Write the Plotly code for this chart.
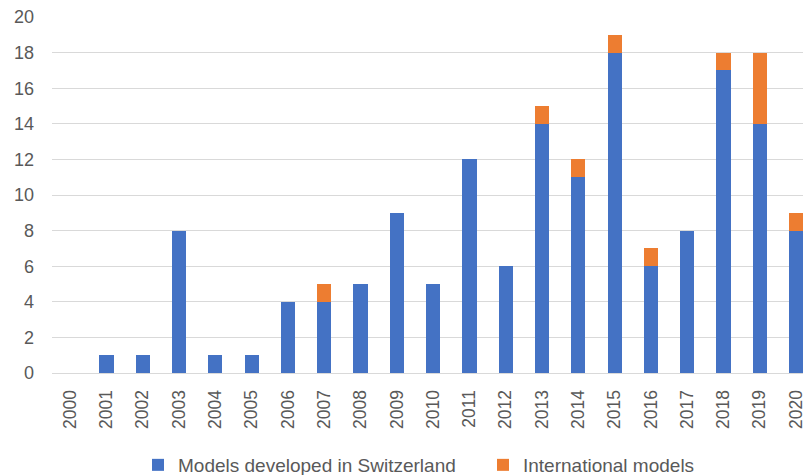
import plotly.graph_objects as go

years = [str(y) for y in range(2000, 2021)]
swiss = [0, 1, 1, 8, 1, 1, 4, 4, 5, 9, 5, 12, 6, 14, 11, 18, 6, 8, 17, 14, 8]
intl = [0, 0, 0, 0, 0, 0, 0, 1, 0, 0, 0, 0, 0, 1, 1, 1, 1, 0, 1, 4, 1]
y_ticks = list(range(0, 21, 2))

FONT = "Liberation Sans"
GREY = "#595959"

fig = go.Figure()
fig.add_trace(go.Bar(x=list(range(len(years))), y=swiss, name="Models developed in Switzerland",
                     marker=dict(color="#4472C4", line=dict(width=0)), width=0.39))
fig.add_trace(go.Bar(x=list(range(len(years))), y=intl, name="International models",
                     marker=dict(color="#ED7D31", line=dict(width=0)), width=0.39))

fig.update_layout(
    barmode="stack",
    width=803, height=475,
    margin=dict(l=52, r=0, t=17, b=102, autoexpand=False),
    plot_bgcolor="white", paper_bgcolor="white",
    font=dict(family=FONT, color=GREY, size=16),
    showlegend=True,
    legend=dict(orientation="h", xref="container", yref="container",
                x=138 / 803, xanchor="left", y=1 - 465 / 475, yanchor="middle",
                font=dict(size=19, color=GREY), traceorder="normal",
                itemwidth=30, itemsizing="constant", entrywidth=300),
    xaxis=dict(tickmode="array", tickvals=list(range(len(years))), ticktext=years,
               tickangle=-90, range=[-0.5, 20.19], showgrid=False, automargin=False,
               showline=True, linecolor="#d9d9d9", linewidth=1, ticks="",
               ticklabeloverflow="allow", ticklabelstandoff=9,
               tickfont=dict(size=17.5, color=GREY)),
    yaxis=dict(range=[0, 20], tickvals=y_ticks, showgrid=True, gridcolor="#d9d9d9",
               gridwidth=1, zeroline=False, ticks="", automargin=False,
               tickfont=dict(size=18, color=GREY), ticklabelstandoff=17),
)

fig.write_html("out.html", config={"displayModeBar": False})

with open("out.html", "r", encoding="utf-8") as f:
    html = f.read()
html = html.replace("<head>", "<head><style>html,body{margin:0;padding:0;overflow:hidden;}</style>", 1)
with open("out.html", "w", encoding="utf-8") as f:
    f.write(html)
